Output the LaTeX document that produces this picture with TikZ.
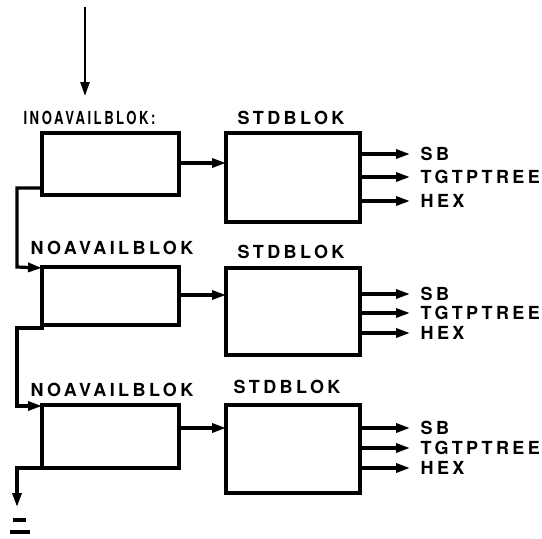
\documentclass[tikz,border=0pt]{standalone}
\usepackage{fontspec}
\setmainfont{TeX Gyre Heros}[LetterSpace=19]
\usetikzlibrary{arrows.meta,calc}
\begin{document}
\begin{tikzpicture}[x=1pt,y=1pt,
  line width=3.2pt,
  blok/.style={draw,line width=3.2pt,minimum width=137pt,inner sep=0pt,outer sep=0pt,anchor=north west},
  sblok/.style={draw,line width=3.2pt,minimum width=134pt,inner sep=0pt,outer sep=0pt,anchor=north west},
  lbl/.style={font=\fontsize{18}{18}\selectfont\bfseries,inner sep=0pt},
  arr/.style={-{Triangle[length=14pt,width=9pt]}},
  outl/.style={lbl,anchor=west}]
\useasboundingbox (0,0) rectangle (542,-539);
% row 1
\node[blok,minimum height=62pt] (A1) at (42,-133) {};
\node[sblok,minimum height=89pt] (B1) at (226,-133) {};
\node[lbl,anchor=west] (LA1) at (22,-118) {\scalebox{0.73}[1]{INOAVAILBLOK:}};
\node[lbl] (LB1) at (291,-118) {STDBLOK};
\coordinate (src) at (85,-7);
\coordinate (snk) at (85,-96);
\draw[arr,line width=2.6pt] (src) -- (snk);
\draw[arr] (A1.east |- 0,-163) -- (B1.west |- 0,-163);
\node[outl] (O11) at (419,-154) {SB};
\node[outl] (O12) at (419,-177) {TGTPTREE};
\node[outl] (O13) at (419,-201) {HEX};
\foreach \o in {O11,O12,O13}{\draw[arr] (B1.east |- \o.west) -- ([xshift=-9pt]\o.west);}
% row 2
\node[blok,minimum height=58pt] (A2) at (42,-267) {};
\node[sblok,minimum height=87pt] (B2) at (226,-268) {};
\node[lbl,anchor=west] (LA2) at (29,-248) {NOAVAILBLOK};
\node[lbl] (LB2) at (291,-252) {STDBLOK};
\draw[arr] (A2.east |- 0,-295) -- (B2.west |- 0,-295);
\node[outl] (O21) at (419,-294) {SB};
\node[outl] (O22) at (419,-313) {TGTPTREE};
\node[outl] (O23) at (419,-333) {HEX};
\foreach \o in {O21,O22,O23}{\draw[arr] (B2.east |- \o.west) -- ([xshift=-9pt]\o.west);}
% row 3
\node[blok,minimum height=63pt] (A3) at (42,-405) {};
\node[sblok,minimum height=88pt] (B3) at (226,-405) {};
\node[lbl,anchor=west] (LA3) at (29,-390) {NOAVAILBLOK};
\node[lbl] (LB3) at (287,-387) {STDBLOK};
\draw[arr] (A3.east |- 0,-428) -- (B3.west |- 0,-428);
\node[outl] (O31) at (419,-428) {SB};
\node[outl] (O32) at (419,-448) {TGTPTREE};
\node[outl] (O33) at (419,-468) {HEX};
\foreach \o in {O31,O32,O33}{\draw[arr] (B3.east |- \o.west) -- ([xshift=-9pt]\o.west);}
% chain
\draw[arr,line join=miter] (A1.west |- 0,-188) -- (17,-188) -- (17,-267) -- (A2.west |- 0,-268);
\draw[arr,line join=miter] (A2.south west) -- ++(0,-3) -- (17,-328) -- (17,-406) -- (A3.west |- 0,-406);
\coordinate (ex) at (17,-507);
\draw[arr,line join=miter] (A3.south west) -- (17,-468) -- (ex);
\draw[line width=3.5pt] (13,-520) -- (26,-520);
\draw[line width=3.5pt] (10,-532) -- (30,-532);
\end{tikzpicture}
\end{document}
